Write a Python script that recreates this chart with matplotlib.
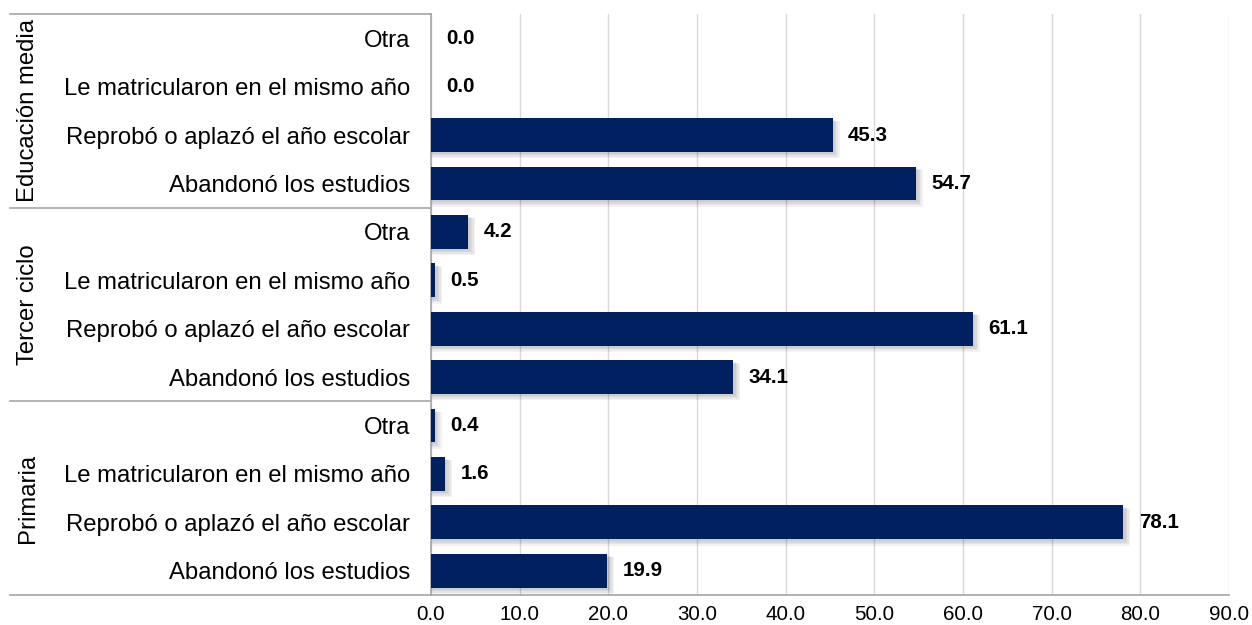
import matplotlib.pyplot as plt
import matplotlib.transforms as mtransforms
import numpy as np

plt.rcParams['font.family'] = ['Liberation Sans', 'DejaVu Sans']

grupos = ['Educación media', 'Tercer ciclo', 'Primaria']
motivos = ['Otra', 'Le matricularon en el mismo año',
           'Reprobó o aplazó el año escolar', 'Abandonó los estudios']
edu_media = [0.0, 0.0, 45.3, 54.7]
tercer_ciclo = [4.2, 0.5, 61.1, 34.1]
primaria = [0.4, 1.6, 78.1, 19.9]
xticks = [0, 10, 20, 30, 40, 50, 60, 70, 80, 90]

valores = edu_media + tercer_ciclo + primaria
etiquetas = motivos * 3
n = len(valores)
y = np.arange(n)[::-1]  # top row first

fig = plt.figure(figsize=(12.52, 6.25), dpi=100)
ax = fig.add_axes([431/1252, 1-595/625, (1229-431)/1252, (595-14)/625])

color = '#002060'
h = 0.7
# soft shadow (only under bars that exist)
vals = np.array(valores)
con = vals > 0
for k in range(4):
    off = 0.25 + 0.18*k
    ax.barh(y[con] - 0.04 - 0.02*k, vals[con] + off, height=h + 0.02*k,
            color='black', alpha=0.05, zorder=2, linewidth=0)
ax.barh(y, valores, height=h, color=color, zorder=3, linewidth=0)

for yi, v in zip(y, valores):
    ax.annotate(f'{v:.1f}', (v, yi), xytext=(11, 0), textcoords='offset points',
                ha='left', va='center', fontsize=14.8, fontweight='bold', color='black')

ax.set_xlim(0, 90)
ax.set_ylim(-0.5, n - 0.5)
ax.set_xticks(xticks)
ax.set_xticklabels([f'{t:.1f}' for t in xticks], fontsize=14.8)
ax.set_yticks(y)
ax.set_yticklabels(etiquetas, fontsize=17.2)
ax.tick_params(length=0)
ax.tick_params(axis='y', pad=15)
ax.tick_params(axis='x', pad=7)
ax.grid(axis='x', color='#d9d9d9', linewidth=1, zorder=0)
ax.set_axisbelow(True)
for s in ['top', 'right']:
    ax.spines[s].set_visible(False)
ax.spines['left'].set_color('#a6a6a6')
ax.spines['bottom'].set_color('#a6a6a6')
ax.spines['left'].set_linewidth(1.2)
ax.spines['bottom'].set_linewidth(1.2)

# group separators and labels
trans = mtransforms.blended_transform_factory(ax.transAxes, ax.transData)
x0 = (10 - 431) / (1229 - 431)
for b in [-0.5, 3.5, 7.5, 11.5]:
    ax.plot([x0, 0], [b, b], transform=trans, color='#a6a6a6', lw=1.2, clip_on=False)
for i, g in enumerate(grupos):
    yc = n - 1 - (4*i + 1.5)
    ax.text((28 - 431) / (1229 - 431), yc, g, transform=trans, rotation=90,
            ha='center', va='center', fontsize=17.2)

fig.savefig('out.png', dpi=100)
